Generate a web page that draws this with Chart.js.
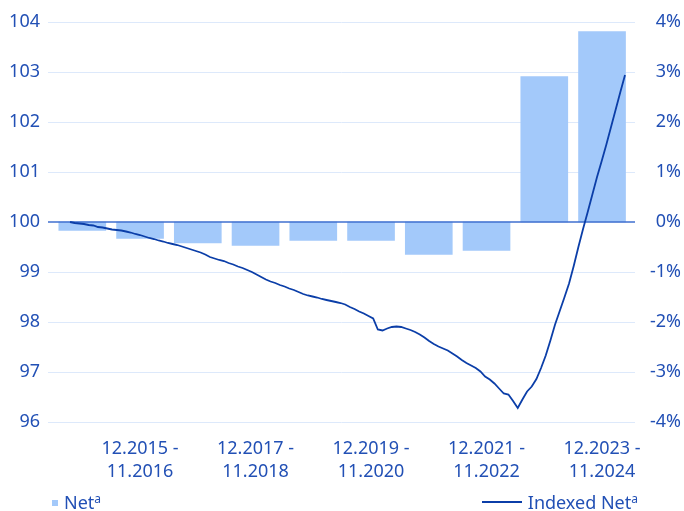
<!DOCTYPE html>
<html>
<head>
<meta charset="utf-8">
<script src="https://cdn.jsdelivr.net/npm/chart.js@4/dist/chart.umd.min.js"></script>
<style>
  body { margin: 0; background: #fff; }
  #wrap { position: relative; width: 684px; height: 511px; font-family: "Noto Sans", sans-serif; color: #2250b5; }
  #chart { position: absolute; left: 0; top: 0; }
  .leg { position: absolute; top: 490px; font-size: 18px; line-height: 24px; white-space: nowrap; }
  .leg sup { font-size: 12px; vertical-align: 6px; line-height: 0; }
  .sq { display: inline-block; width: 6px; height: 6px; background: #a3c9fa; margin-right: 6px; vertical-align: 3px; }
  .ln { display: inline-block; width: 40px; height: 2px; background: #0b3ea8; margin-right: 6px; vertical-align: 6px; }
</style>
</head>
<body>
<div id="wrap">
  <canvas id="chart" width="684" height="511"></canvas>
  <div class="leg" style="left:52px"><span class="sq"></span>Net<sup>a</sup></div>
  <div class="leg" style="right:46px"><span class="ln"></span>Indexed Net<sup>a</sup></div>
</div>
<script>
// Periodos anuales (barras)
const periods = [
  ['12.2014 -', '11.2015'], ['12.2015 -', '11.2016'], ['12.2016 -', '11.2017'],
  ['12.2017 -', '11.2018'], ['12.2018 -', '11.2019'], ['12.2019 -', '11.2020'],
  ['12.2020 -', '11.2021'], ['12.2021 -', '11.2022'], ['12.2022 -', '11.2023'],
  ['12.2023 -', '11.2024']
];
const shownPeriods = [1, 3, 5, 7, 9];

// Variación neta anual, en %
const netChange = [-0.17, -0.33, -0.42, -0.47, -0.37, -0.37, -0.65, -0.57, 2.91, 3.81];

// Índice mensual (base 100)
const indexedNet = [
  100.00, 99.98, 99.97, 99.96, 99.94, 99.93, 99.90, 99.89, 99.87, 99.85,
  99.84, 99.83, 99.81, 99.79, 99.76, 99.74, 99.71, 99.68, 99.66, 99.63,
  99.61, 99.58, 99.56, 99.54, 99.51, 99.48, 99.45, 99.42, 99.39, 99.35,
  99.30, 99.27, 99.24, 99.22, 99.18, 99.15, 99.11, 99.08, 99.04, 99.00,
  98.95, 98.90, 98.85, 98.81, 98.78, 98.74, 98.71, 98.67, 98.64, 98.60,
  98.56, 98.53, 98.51, 98.49, 98.46, 98.44, 98.42, 98.40, 98.38, 98.35,
  98.30, 98.26, 98.21, 98.17, 98.12, 98.07, 97.85, 97.83, 97.87, 97.90,
  97.91, 97.90, 97.87, 97.84, 97.80, 97.75, 97.69, 97.62, 97.56, 97.51,
  97.47, 97.43, 97.37, 97.31, 97.24, 97.18, 97.13, 97.08, 97.01, 96.91,
  96.85, 96.77, 96.67, 96.57, 96.55, 96.42, 96.28, 96.45, 96.61, 96.71,
  96.86, 97.08, 97.33, 97.63, 97.95, 98.22, 98.49, 98.77, 99.12, 99.50,
  99.86, 100.20, 100.55, 100.90, 101.22, 101.55, 101.90, 102.25, 102.60, 102.94
];

// Ejes
const leftTicks = [96, 97, 98, 99, 100, 101, 102, 103, 104];
const rightTicks = [-4, -3, -2, -1, 0, 1, 2, 3, 4];

const textColor = '#2250b5';
const tickFont = { family: 'Noto Sans', size: 18, lineHeight: 1.3 };

// Línea del cero dibujada sobre las barras, debajo de la línea
const zeroLine = {
  id: 'zeroLine',
  beforeDatasetDraw(chart, args) {
    if (args.meta.type !== 'line') return;
    const { ctx, chartArea } = chart;
    const y = chart.scales.y.getPixelForValue(100);
    ctx.save();
    ctx.strokeStyle = '#3f6fcf';
    ctx.lineWidth = 1.5;
    ctx.beginPath();
    ctx.moveTo(chartArea.left, y);
    ctx.lineTo(chartArea.right, y);
    ctx.stroke();
    ctx.restore();
  }
};

const ctx = document.getElementById('chart').getContext('2d');
new Chart(ctx, {
  data: {
    datasets: [{
      type: 'line',
      label: 'Indexed Net',
      data: indexedNet.map((v, i) => ({ x: i, y: v })),
      xAxisID: 'xm',
      yAxisID: 'y',
      borderColor: '#0b3ea8',
      borderWidth: 1.8,
      pointRadius: 0,
      tension: 0,
      order: 0
    }, {
      type: 'bar',
      label: 'Net',
      data: netChange.map((v, i) => ({ x: i, y: v })),
      xAxisID: 'x',
      yAxisID: 'y2',
      backgroundColor: '#a3c9fa',
      borderWidth: 0,
      grouped: false,
      barThickness: 47,
      order: 1
    }]
  },
  options: {
    responsive: false,
    animation: false,
    devicePixelRatio: 1,
    layout: { padding: { top: 22, left: 0, right: 3, bottom: 27 } },
    plugins: { legend: { display: false }, tooltip: { enabled: false } },
    scales: {
      x: {
        type: 'linear',
        offset: false,
        min: -0.594,
        max: 9.571,
        afterFit: s => { s.height = 62; },
        grid: { display: false, drawTicks: false, offset: false },
        border: { display: false },
        afterBuildTicks: s => { s.ticks = shownPeriods.map(v => ({ value: v })); },
        ticks: {
          color: textColor,
          font: tickFont,
          padding: 15,
          maxRotation: 0,
          autoSkip: false,
          callback: v => periods[v]
        }
      },
      xm: {
        type: 'linear',
        display: false,
        offset: false,
        min: -4.72,
        max: 121.14
      },
      y: {
        position: 'left',
        min: 96,
        max: 104,
        afterBuildTicks: s => { s.ticks = leftTicks.map(v => ({ value: v })); },
        afterFit: s => { s.width = 48; },
        grid: {
          drawTicks: false,
          color: c => c.tick.value === 100 ? 'rgba(0,0,0,0)' : '#dde9fb',
          lineWidth: 1
        },
        border: { display: false },
        ticks: { color: textColor, font: tickFont, padding: 8 }
      },
      y2: {
        position: 'right',
        min: -4,
        max: 4,
        afterBuildTicks: s => { s.ticks = rightTicks.map(v => ({ value: v })); },
        afterFit: s => { s.width = 46; },
        grid: { display: false, drawTicks: false },
        border: { display: false },
        ticks: {
          color: textColor,
          font: tickFont,
          padding: 7,
          crossAlign: 'far',
          callback: v => v + '%'
        }
      }
    }
  },
  plugins: [zeroLine]
});
</script>
</body>
</html>
